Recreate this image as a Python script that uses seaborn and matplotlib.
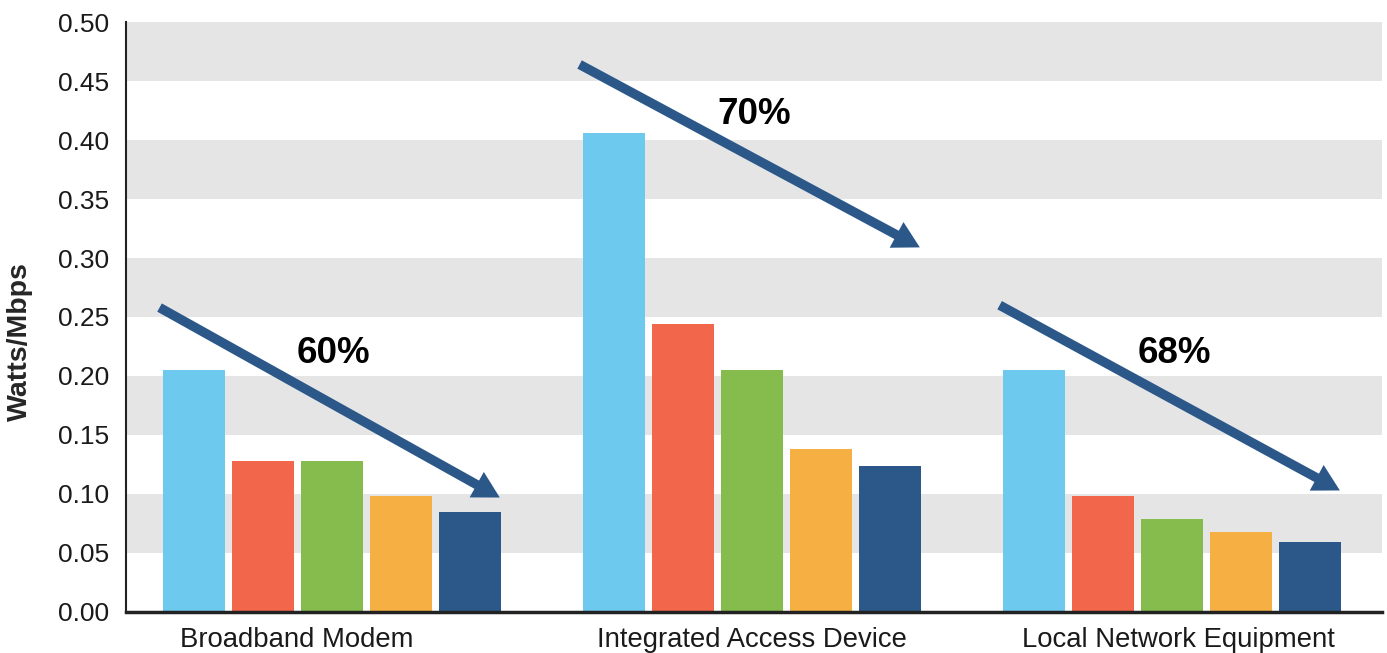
import numpy as np
import pandas as pd
import matplotlib
matplotlib.use('Agg')
import matplotlib.pyplot as plt
import matplotlib.transforms as mtransforms
import seaborn as sns

categories = ['Broadband Modem', 'Integrated Access Device', 'Local Network Equipment']
series = ['Gen 1', 'Gen 2', 'Gen 3', 'Gen 4', 'Gen 5']
values = {
    'Gen 1': [0.205, 0.406, 0.205],
    'Gen 2': [0.128, 0.244, 0.098],
    'Gen 3': [0.128, 0.205, 0.079],
    'Gen 4': [0.098, 0.138, 0.068],
    'Gen 5': [0.085, 0.124, 0.059],
}
colors = ['#6DC9EE', '#F2674B', '#86BB4D', '#F6AF42', '#2B5889']
reductions = ['60%', '70%', '68%']
yticks = [0.00, 0.05, 0.10, 0.15, 0.20, 0.25, 0.30, 0.35, 0.40, 0.45, 0.50]

# arrow start/end heights and label heights (annotation placement)
arrow_y0 = [0.258, 0.464, 0.260]
arrow_y1 = [0.097, 0.309, 0.103]
label_y = [0.219, 0.422, 0.219]
# the category labels in the source sit slightly off-centre (points)
label_shift = [-25, 0, 5]

rows = []
for s in series:
    for c, v in zip(categories, values[s]):
        rows.append({'category': c, 'series': s, 'value': v})
df = pd.DataFrame(rows)

sns.set_style('white')
plt.rcParams['font.family'] = ['Liberation Sans', 'DejaVu Sans']

fig = plt.figure(figsize=(13.87, 6.53), dpi=100)
ax = fig.add_axes([0.0908, 0.0628, 0.9055, 0.9035])

# alternating grey bands
for lo in yticks[1::2]:
    ax.axhspan(lo, lo + 0.05, color='#E5E5E5', zorder=0, lw=0)

sns.barplot(data=df, x='category', y='value', hue='series', palette=colors,
            width=0.82, gap=0.1, saturation=1, linewidth=0, legend=False,
            ax=ax, zorder=2)

for i, (pct, y0, y1, ly) in enumerate(zip(reductions, arrow_y0, arrow_y1, label_y)):
    ax.annotate('', xy=(i + 0.40, y1), xytext=(i - 0.41, y0),
                arrowprops=dict(arrowstyle='simple,head_length=0.95,head_width=1.05,tail_width=0.34',
                                color='#2B5889', lw=0, shrinkA=0, shrinkB=0,
                                mutation_scale=20),
                zorder=3)
    ax.text(i + 0.005, ly, pct, ha='center', va='center', fontsize=26.5,
            fontweight='bold', color='black', zorder=4)

ax.set_xlim(-0.49, 2.5)
ax.set_ylim(0, 0.5)
ax.set_yticks(yticks)
ax.set_yticklabels([f'{t:.2f}' for t in yticks], fontsize=19, color='#1a1a1a')
ax.tick_params(axis='x', labelsize=19.8, colors='#1a1a1a', length=0, pad=11)
ax.tick_params(axis='y', length=0, pad=12)
ax.set_xlabel('')
ax.set_ylabel('Watts/Mbps', fontsize=20.5, fontweight='bold')
ax.yaxis.set_label_coords(-0.074, 0.458)

for lab, dx in zip(ax.get_xticklabels(), label_shift):
    off = mtransforms.ScaledTranslation(dx / 72, 0, fig.dpi_scale_trans)
    lab.set_transform(lab.get_transform() + off)

for side in ['top', 'right']:
    ax.spines[side].set_visible(False)
ax.spines['left'].set_color('#222222')
ax.spines['left'].set_linewidth(1.5)
ax.spines['bottom'].set_color('#222222')
ax.spines['bottom'].set_linewidth(2.5)

fig.savefig('out.png', dpi=100)
